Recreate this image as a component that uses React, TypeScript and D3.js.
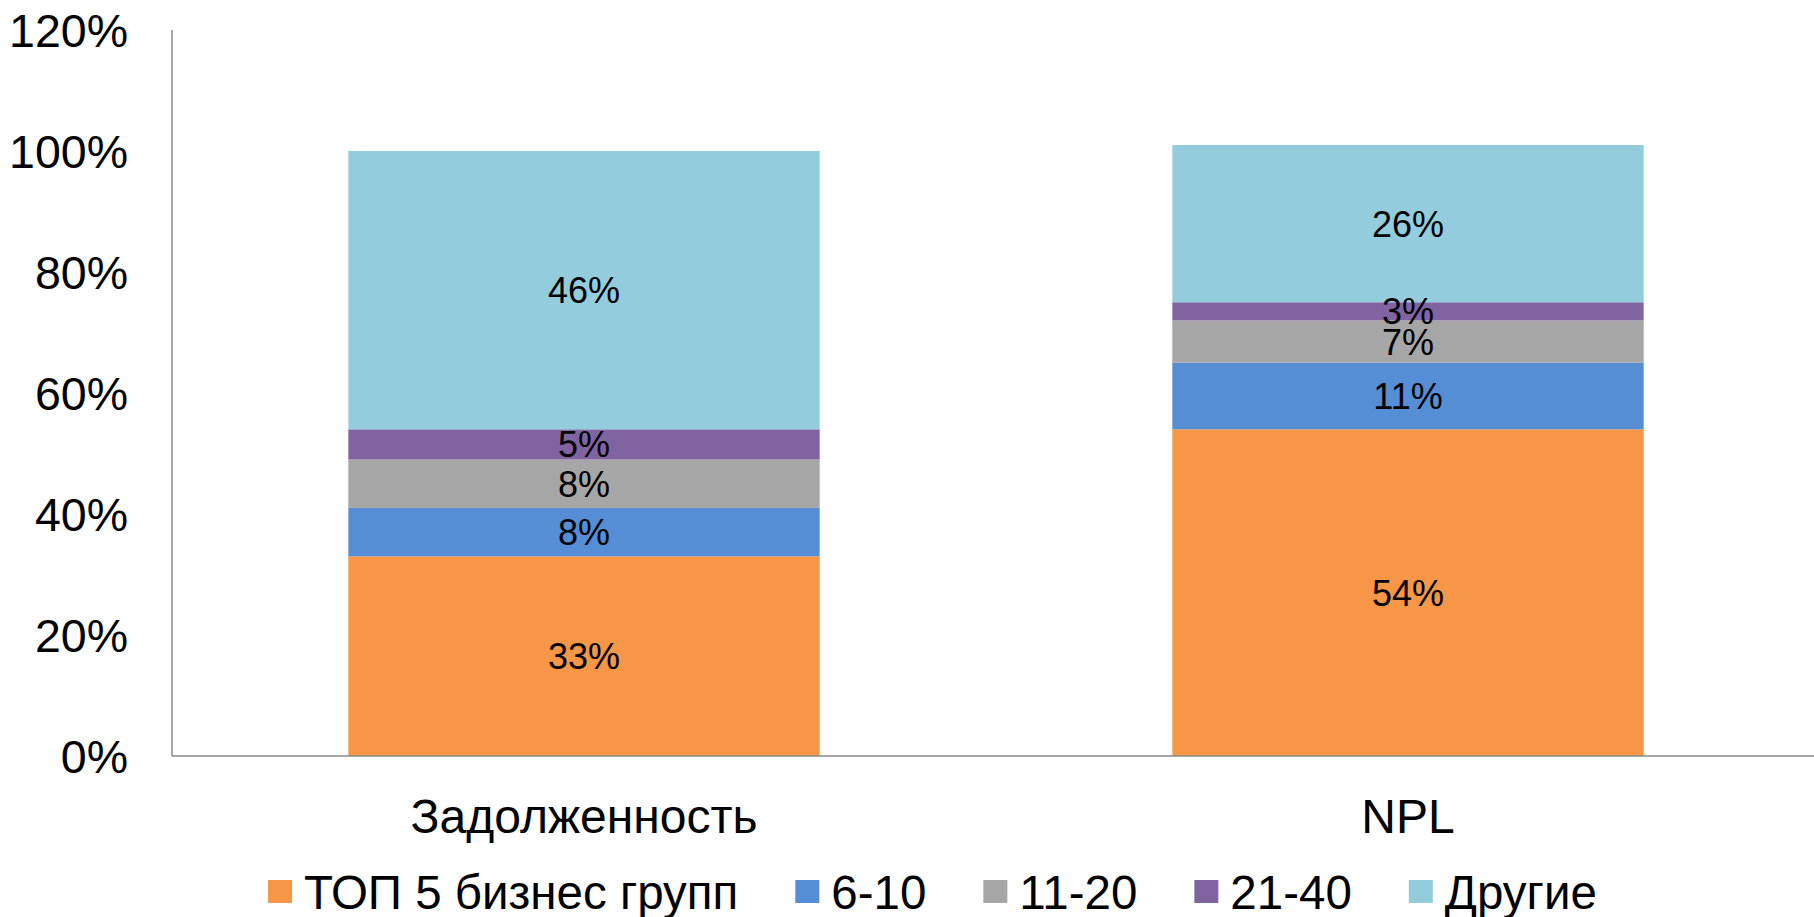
import React from 'react';
import * as d3 from 'd3';

// chart values
const categories = ['Задолженность', 'NPL'];
const seriesNames = ['ТОП 5 бизнес групп', '6-10', '11-20', '21-40', 'Другие'];
const top5 = [33, 54];
const g6to10 = [8, 11];
const g11to20 = [8, 7];
const g21to40 = [5, 3];
const others = [46, 26];
const yTicks = [0, 20, 40, 60, 80, 100, 120];

const colors = ['#F79646', '#558ED5', '#A6A6A6', '#8064A2', '#93CDDD'];
const FONT = "'Liberation Sans', Arial, sans-serif";

const W = 1814, H = 917;
const margin = { top: 30, right: 0, bottom: 161, left: 172 };

function measure(text: string, size: number) {
  const ctx = document.createElement('canvas').getContext('2d');
  if (!ctx) return text.length * size * 0.55;
  ctx.font = `${size}px ${FONT}`;
  return ctx.measureText(text).width;
}

const App = () => {
  const seriesValues = [top5, g6to10, g11to20, g21to40, others];
  const rows = categories.map((c, i) => {
    const r: any = { cat: c };
    seriesNames.forEach((s, k) => (r[s] = seriesValues[k][i]));
    return r;
  });
  const stacked = d3.stack().keys(seriesNames)(rows);

  const x = d3.scaleBand()
    .domain(categories)
    .range([margin.left, W - margin.right + 6])
    .paddingInner(0.428)
    .paddingOuter(0.214);
  const y = d3.scaleLinear().domain([0, 120]).range([H - margin.bottom, margin.top]);

  // legend layout
  const legendSize = 47.5;
  let lx = 268;
  const legendItems = seriesNames.map((s, i) => {
    const item = { name: s, x: lx, color: colors[i] };
    lx += 24 + 12 + measure(s, legendSize) + 57;
    return item;
  });

  return (
    <svg width={W} height={H} style={{ position: 'absolute', left: 0, top: 0, display: 'block' }}
      fontFamily={FONT}>
      <rect width={W} height={H} fill="#fff" />
      {stacked.map((layer, k) => (
        <g key={layer.key} fill={colors[k]}>
          {layer.map((d, i) => (
            <rect key={i} x={x(categories[i])} width={x.bandwidth()}
              y={y(d[1])} height={y(d[0]) - y(d[1])} />
          ))}
        </g>
      ))}
      {stacked.map((layer, k) => (
        <g key={'l' + layer.key} fontSize={36} textAnchor="middle" fill="#000">
          {layer.map((d, i) => (
            <text key={i} x={(x(categories[i]) as number) + x.bandwidth() / 2}
              y={y((d[0] + d[1]) / 2)} dy="0.36em">
              {seriesValues[k][i]}%
            </text>
          ))}
        </g>
      ))}
      {/* axes */}
      <line x1={margin.left} x2={margin.left} y1={y(120)} y2={y(0)} stroke="#888" strokeWidth={1.5} />
      <line x1={margin.left} x2={W} y1={y(0)} y2={y(0)} stroke="#888" strokeWidth={1.5} />
      <g fontSize={46.5} textAnchor="end" fill="#000">
        {yTicks.map(t => (
          <text key={t} x={128} y={y(t)} dy="0.36em">{t}%</text>
        ))}
      </g>
      <g fontSize={48} textAnchor="middle" fill="#000">
        {categories.map(c => (
          <text key={c} x={(x(c) as number) + x.bandwidth() / 2} y={816} dy="0.36em">{c}</text>
        ))}
      </g>
      <g fontSize={legendSize} fill="#000">
        {legendItems.map(it => (
          <g key={it.name}>
            <rect x={it.x} y={880} width={24} height={23} fill={it.color} />
            <text x={it.x + 36} y={892} dy="0.36em">{it.name}</text>
          </g>
        ))}
      </g>
    </svg>
  );
};

export default App;
